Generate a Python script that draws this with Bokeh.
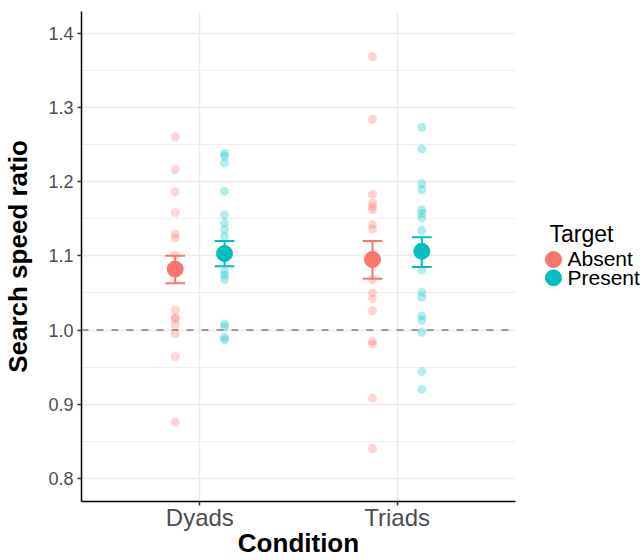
from bokeh.plotting import figure
from bokeh.models import (ColumnDataSource, FactorRange, FixedTicker,
                          NumeralTickFormatter, Span, Range1d)
from bokeh.transform import dodge
from bokeh.layouts import row
from bokeh.embed import file_html
from bokeh.resources import INLINE
from bokeh.core.properties import value

# ---------------- data ----------------
conditions = ["Dyads", "Triads"]
targets = ["Absent", "Present"]
colors = ["#F8766D", "#00BFC4"]

dyads_absent = [1.260, 1.216, 1.186, 1.158, 1.129, 1.124, 1.101, 1.027,
                1.017, 1.015, 1.007, 0.995, 0.964, 0.876]
dyads_present = [1.238, 1.234, 1.225, 1.187, 1.155, 1.144, 1.135, 1.126,
                 1.079, 1.074, 1.068, 1.008, 1.004, 0.990, 0.987]
triads_absent = [1.368, 1.284, 1.183, 1.171, 1.166, 1.162, 1.142, 1.136,
                 1.068, 1.050, 1.042, 1.026, 0.985, 0.981, 0.908, 0.840]
triads_present = [1.273, 1.244, 1.197, 1.189, 1.162, 1.157, 1.151, 1.134,
                  1.081, 1.051, 1.044, 1.019, 1.013, 0.997, 0.944, 0.920]

mean_absent = [1.082, 1.095]
lower_absent = [1.063, 1.069]
upper_absent = [1.100, 1.120]
mean_present = [1.103, 1.106]
lower_present = [1.086, 1.085]
upper_present = [1.120, 1.125]

y_ticks = [0.8, 0.9, 1.0, 1.1, 1.2, 1.3, 1.4]
y_minor = [0.85, 0.95, 1.05, 1.15, 1.25, 1.35]
reference_line = 1.0

raw = {
    "Absent": {"Dyads": dyads_absent, "Triads": triads_absent},
    "Present": {"Dyads": dyads_present, "Triads": triads_present},
}
summary = {
    "Absent": (mean_absent, lower_absent, upper_absent),
    "Present": (mean_present, lower_present, upper_present),
}

FONT = "Liberation Sans"
DODGE = 0.125
CAP = 0.05
FRAME_TOP, FRAME_BOTTOM = 11, 502

# ---------------- main figure ----------------
p = figure(width=520, height=560,
           x_range=FactorRange(*conditions, range_padding=0.1,
                               range_padding_units="absolute"),
           y_range=Range1d(0.769, 1.429),
           output_backend="svg", toolbar_location=None,
           min_border_left=77, min_border_right=5,
           min_border_top=FRAME_TOP, min_border_bottom=560 - FRAME_BOTTOM)
p.outline_line_color = None
p.background_fill_color = "white"

for i, t in enumerate(targets):
    off = -DODGE if i == 0 else DODGE
    col = colors[i]
    cond_col, val_col = [], []
    for c in conditions:
        for v in raw[t][c]:
            cond_col.append(c)
            val_col.append(v)
    src = ColumnDataSource(dict(cond=cond_col, val=val_col))
    p.scatter(x=dodge("cond", off, range=p.x_range), y="val", source=src,
              size=9, fill_color=col, fill_alpha=0.3, line_color=None)

for i, t in enumerate(targets):
    off = -DODGE if i == 0 else DODGE
    col = colors[i]
    m, lo, hi = summary[t]
    s = ColumnDataSource(dict(cond=conditions, mean=m, lo=lo, hi=hi))
    p.segment(x0=dodge("cond", off, range=p.x_range), y0="lo",
              x1=dodge("cond", off, range=p.x_range), y1="hi",
              source=s, line_color=col, line_width=2)
    for key in ("lo", "hi"):
        p.segment(x0=dodge("cond", off - CAP, range=p.x_range), y0=key,
                  x1=dodge("cond", off + CAP, range=p.x_range), y1=key,
                  source=s, line_color=col, line_width=2)
    p.scatter(x=dodge("cond", off, range=p.x_range), y="mean", source=s,
              size=16, fill_color=col, line_color=col)

p.add_layout(Span(location=reference_line, dimension="width",
                  line_color="#808080", line_width=1.5, line_dash="7 8"))

ticker = FixedTicker(ticks=y_ticks, minor_ticks=y_minor)
p.yaxis.ticker = ticker
p.ygrid.ticker = ticker
p.yaxis.formatter = NumeralTickFormatter(format="0.0")

p.xgrid.grid_line_color = "#EBEBEB"
p.xgrid.grid_line_width = 1.5
p.ygrid.grid_line_color = "#EBEBEB"
p.ygrid.grid_line_width = 1.5
p.ygrid.minor_grid_line_color = "#EFEFEF"
p.ygrid.minor_grid_line_width = 1.2

p.axis.axis_line_color = "black"
p.axis.axis_line_width = 1.5
p.axis.major_tick_line_color = "#333333"
p.axis.major_tick_line_width = 1.5
p.axis.major_tick_in = 0
p.axis.major_tick_out = 4
p.axis.minor_tick_line_color = None
p.axis.major_label_text_font = FONT
p.axis.major_label_text_color = "#4D4D4D"
p.axis.axis_label_text_font = FONT
p.axis.axis_label_text_font_style = "bold"
p.axis.axis_label_text_color = "black"
p.axis.axis_label_text_font_size = "26px"

p.yaxis.major_label_text_font_size = "18px"
p.yaxis.major_label_standoff = 4
p.yaxis.axis_label = "Search speed ratio"
p.yaxis.axis_label_standoff = 12

p.xaxis.major_label_text_font_size = "24px"
p.xaxis.major_label_standoff = -2
p.xaxis.axis_label = "Condition"
p.xaxis.axis_label_standoff = -6

# ---------------- legend panel ----------------
# its frame is aligned with the main frame, so its y range is set in pixels
lg = figure(width=124, height=560, x_range=Range1d(0, 124),
            y_range=Range1d(FRAME_BOTTOM, FRAME_TOP), output_backend="svg",
            toolbar_location=None, x_axis_location=None,
            y_axis_location=None, min_border=0)
lg.outline_line_color = None
lg.grid.visible = False

legend_title = "Target"
title_x, title_y = 29, 234
key_x, label_x = 33, 47
first_y, step = 259.5, 18.4
key_ys = [first_y + k * step for k in range(len(targets))]

lg.text(x=[title_x], y=[title_y], text=[legend_title],
        text_font=value(FONT), text_font_size="23px", text_color="black",
        text_baseline="alphabetic", text_align="left")
lsrc = ColumnDataSource(dict(x=[key_x] * len(targets), y=key_ys,
                             lx=[label_x] * len(targets),
                             ly=[y - 0.5 for y in key_ys],
                             label=targets, color=colors))
lg.scatter(x="x", y="y", source=lsrc, size=16, fill_color="color",
           line_color="color")
lg.text(x="lx", y="ly", text="label", source=lsrc,
        text_font=value(FONT), text_font_size="21px", text_color="black",
        text_baseline="alphabetic", text_align="left")

layout = row(p, lg)
open("out.html", "w").write(file_html(layout, INLINE))
